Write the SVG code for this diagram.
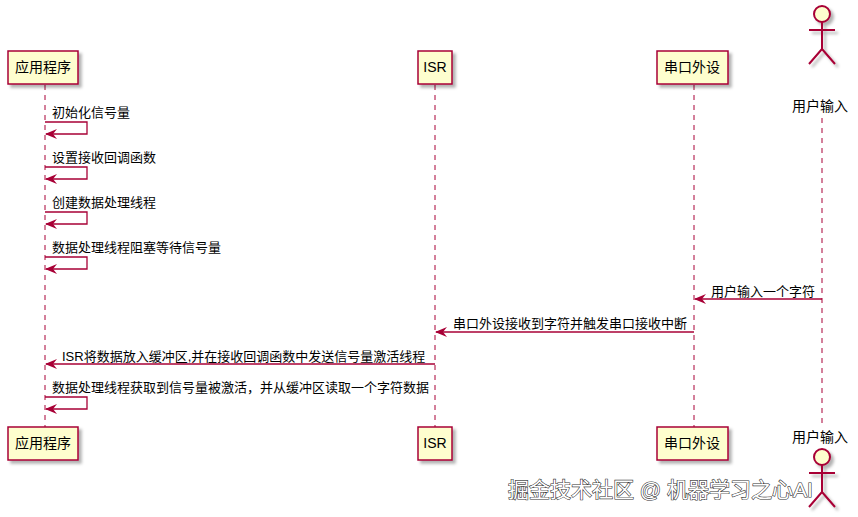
<svg xmlns="http://www.w3.org/2000/svg" width="858" height="517" viewBox="0 0 858 517">
<defs>
<filter id="sh" x="-20%" y="-20%" width="150%" height="150%"><feDropShadow dx="3" dy="3" stdDeviation="1.5" flood-color="#000" flood-opacity="0.3"/></filter>
<marker id="ar" viewBox="0 0 12 10" refX="11" refY="5" markerWidth="12" markerHeight="10" orient="auto" markerUnits="userSpaceOnUse"><path d="M0,0 L12,5 L0,10 L4,5 Z" fill="#A80036"/></marker>
</defs>
<style>
.box{fill:#FEFECE;stroke:#A80036;stroke-width:1.5;filter:url(#sh)}
.life{stroke:#A80036;stroke-width:1;stroke-dasharray:5,5}
.msg{stroke:#A80036;stroke-width:1.3;fill:none}
text{font-family:"Liberation Sans","Noto Sans CJK SC",sans-serif;font-size:13px;fill:#000}
.pt{font-size:14px;text-anchor:middle}
</style>
<g id="lifelines">
<line class="life" x1="45" y1="85" x2="45" y2="427"/>
<line class="life" x1="435" y1="85" x2="435" y2="427"/>
<line class="life" x1="694" y1="85" x2="694" y2="427"/>
<line class="life" x1="822" y1="118" x2="822" y2="427"/>
</g>
<g id="app-top"><rect class="box" x="8" y="51" width="70" height="33"/><text class="pt" x="43" y="72">应用程序</text></g>
<g id="isr-top"><rect class="box" x="418" y="51" width="34" height="33"/><text class="pt" x="435" y="72">ISR</text></g>
<g id="uart-top"><rect class="box" x="657" y="51" width="71" height="33"/><text class="pt" x="692" y="72">串口外设</text></g>
<g id="user-top" filter="url(#sh)">
<circle cx="822" cy="14" r="8" fill="#FEFECE" stroke="#A80036" stroke-width="2"/>
<path d="M822,22 V49 M809,30 H835 M822,49 L809,64 M822,49 L835,64" stroke="#A80036" stroke-width="2" fill="none"/>
</g>
<text class="pt" x="820" y="111">用户输入</text>
<g id="app-bot"><rect class="box" x="8" y="427" width="70" height="33"/><text class="pt" x="43" y="448">应用程序</text></g>
<g id="isr-bot"><rect class="box" x="418" y="427" width="34" height="33"/><text class="pt" x="435" y="448">ISR</text></g>
<g id="uart-bot"><rect class="box" x="657" y="427" width="71" height="33"/><text class="pt" x="692" y="448">串口外设</text></g>
<text class="pt" x="820" y="442">用户输入</text>
<g id="user-bot" filter="url(#sh)">
<circle cx="822" cy="457" r="8" fill="#FEFECE" stroke="#A80036" stroke-width="2"/>
<path d="M822,465 V492 M809,473 H835 M822,492 L809,507 M822,492 L835,507" stroke="#A80036" stroke-width="2" fill="none"/>
</g>
<g id="connectors">
<path class="msg" d="M45,122 H87 V134 H46" marker-end="url(#ar)"/>
<text x="52" y="117">初始化信号量</text>
<path class="msg" d="M45,167 H87 V179 H46" marker-end="url(#ar)"/>
<text x="52" y="162">设置接收回调函数</text>
<path class="msg" d="M45,212 H87 V224 H46" marker-end="url(#ar)"/>
<text x="52" y="207">创建数据处理线程</text>
<path class="msg" d="M45,257 H87 V269 H46" marker-end="url(#ar)"/>
<text x="52" y="252">数据处理线程阻塞等待信号量</text>
<line class="msg" x1="822" y1="299" x2="695" y2="299" marker-end="url(#ar)"/>
<text x="711" y="296">用户输入一个字符</text>
<line class="msg" x1="694" y1="332" x2="436" y2="332" marker-end="url(#ar)"/>
<text x="453" y="328">串口外设接收到字符并触发串口接收中断</text>
<line class="msg" x1="435" y1="364" x2="46" y2="364" marker-end="url(#ar)"/>
<text x="62" y="361">ISR将数据放入缓冲区,并在接收回调函数中发送信号量激活线程</text>
<path class="msg" d="M45,397 H87 V409 H46" marker-end="url(#ar)"/>
<text x="52" y="392">数据处理线程获取到信号量被激活，并从缓冲区读取一个字符数据</text>
</g>
<text x="508" y="497" style="font-size:21px;fill:#fff;stroke:#333;stroke-width:1.2;paint-order:stroke">掘金技术社区 @ 机器学习之心AI</text>
</svg>
